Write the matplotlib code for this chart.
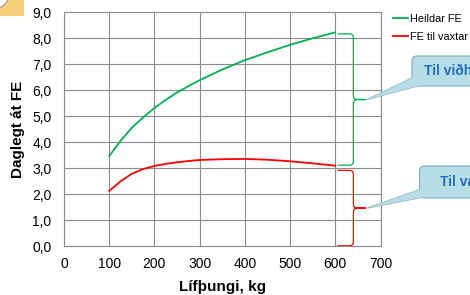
import matplotlib
matplotlib.use("Agg")
import matplotlib.pyplot as plt
import matplotlib.patches as patches
from matplotlib.path import Path

plt.rcParams['font.family'] = ['Liberation Sans', 'DejaVu Sans']

# ---- data ----
weights = [100, 125, 150, 175, 200, 225, 250, 275, 300, 350, 400, 450, 500, 550, 600]
heildar_fe = [3.47, 4.06, 4.56, 4.96, 5.32, 5.63, 5.92, 6.16, 6.39, 6.80, 7.16, 7.46, 7.75, 8.00, 8.23]
vaxtar_fe = [2.13, 2.50, 2.79, 2.97, 3.09, 3.17, 3.23, 3.28, 3.32, 3.35, 3.36, 3.33, 3.27, 3.19, 3.10]
series_labels = ['Heildar FE', 'FE til vaxtar']
x_ticks = [0, 100, 200, 300, 400, 500, 600, 700]
y_ticks = [0, 1, 2, 3, 4, 5, 6, 7, 8, 9]
y_tick_labels = ['0,0', '1,0', '2,0', '3,0', '4,0', '5,0', '6,0', '7,0', '8,0', '9,0']
callout_texts = ['Til viðhalds', 'Til vaxtar']

COLORS = {
    "green": "#00b050", "red": "#ff0000", "grid": "#8c8c8c",
    "box": "#b7dde6", "box_edge": "#88b5c0", "box_text": "#1f6fc0",
}

W, H = 470, 295
fig = plt.figure(figsize=(W / 100, H / 100), dpi=100)
ax = fig.add_axes([64 / W, 1 - 246.3 / H, (380.5 - 64) / W, (246.3 - 12.3) / H])

ax.plot(weights, heildar_fe, color=COLORS['green'], lw=1.3, label=series_labels[0])
ax.plot(weights, vaxtar_fe, color=COLORS['red'], lw=1.3, label=series_labels[1])

ax.set_xlim(0, 700)
ax.set_ylim(0, 9)
ax.set_xticks(x_ticks)
ax.set_yticks(y_ticks)
ax.set_yticklabels(y_tick_labels)
ax.tick_params(length=0, labelsize=10, colors='black')
ax.tick_params(axis='x', pad=8)
ax.tick_params(axis='y', pad=9)
ax.grid(True, color=COLORS['grid'], lw=0.8)
ax.set_axisbelow(True)
for s in ax.spines.values():
    s.set_color(COLORS['grid']); s.set_linewidth(0.8)

ax.set_xlabel('Lífþungi, kg', fontsize=11, fontweight='bold')
ax.xaxis.set_label_coords(0.5, -0.142)
ax.set_ylabel('Daglegt át FE', fontsize=11, fontweight='bold')
ax.yaxis.set_label_coords(-0.122, 0.5)

ax.legend(loc='upper left', bbox_to_anchor=(393 / W, 1 - 13.5 / H), bbox_transform=fig.transFigure,
          frameon=False, fontsize=7.8, handlelength=1.4, handletextpad=0.15,
          borderpad=0, borderaxespad=0, labelspacing=0.75)


# ---- braces (right curly) ----
def brace(ytop, ybot, color, x0=605, xl=640, xt=668, rx=9, ry=0.15):
    ymid = (ytop + ybot) / 2
    verts = [(x0, ytop), (xl - rx, ytop), (xl, ytop), (xl, ytop - ry), (xl, ymid + ry),
             (xl, ymid), (xl + rx, ymid), (xt, ymid),
             (xt, ymid), (xl + rx, ymid), (xl, ymid), (xl, ymid - ry), (xl, ybot + ry),
             (xl, ybot), (xl - rx, ybot), (x0, ybot)]
    codes = [Path.MOVETO, Path.LINETO, Path.CURVE3, Path.CURVE3, Path.LINETO,
             Path.CURVE3, Path.CURVE3, Path.LINETO,
             Path.MOVETO, Path.LINETO, Path.CURVE3, Path.CURVE3, Path.LINETO,
             Path.CURVE3, Path.CURVE3, Path.LINETO]
    ax.add_patch(patches.PathPatch(Path(verts, codes), fc='none', ec=color, lw=0.9, clip_on=False))
    return xt, ymid

tip1 = brace(heildar_fe[-1] - 0.06, vaxtar_fe[-1] + 0.02, COLORS['green'])
tip2 = brace(vaxtar_fe[-1] - 0.18, 0.02, COLORS['red'])

# ---- overlay in pixel coords ----
ov = fig.add_axes([0, 0, 1, 1], zorder=5)
ov.set_xlim(0, W); ov.set_ylim(H, 0); ov.axis('off')
ov.patch.set_alpha(0)

fig.canvas.draw()

def to_px(pt):
    dx, dy = ax.transData.transform(pt)
    return dx + 1, H - dy


def callout(tip, left, top, height, base1, base2, text, text_x):
    wedge_pts = [tip, base1, base2]
    ov.add_patch(patches.Polygon(wedge_pts, closed=True, fc=COLORS['box'], ec=COLORS['box_edge'], lw=0.9))
    ov.add_patch(patches.FancyBboxPatch((left, top), 120, height,
                                        boxstyle='round,pad=0,rounding_size=5',
                                        fc=COLORS['box'], ec=COLORS['box_edge'], lw=0.9))
    ov.add_patch(patches.Polygon(wedge_pts, closed=True, fc=COLORS['box'], ec='none'))
    ov.text(text_x, top + height / 2, text, color=COLORS['box_text'], fontsize=10,
            fontweight='bold', va='center', ha='left')

callout(to_px(tip1), 412, 56, 30, (414, 77), (425, 84), callout_texts[0], 424)
callout(to_px(tip2), 419.5, 166, 32, (421.5, 189), (429, 196), callout_texts[1], 440)

# top-left clipart corner
ov.add_patch(patches.Rectangle((0, 0), 24, 16, fc='#f6cf77', ec='none'))
ov.add_patch(patches.Circle((-4, -4), 12, fc='white', ec='#9a9a9a', lw=0.8))

fig.savefig('out.png', dpi=100)
